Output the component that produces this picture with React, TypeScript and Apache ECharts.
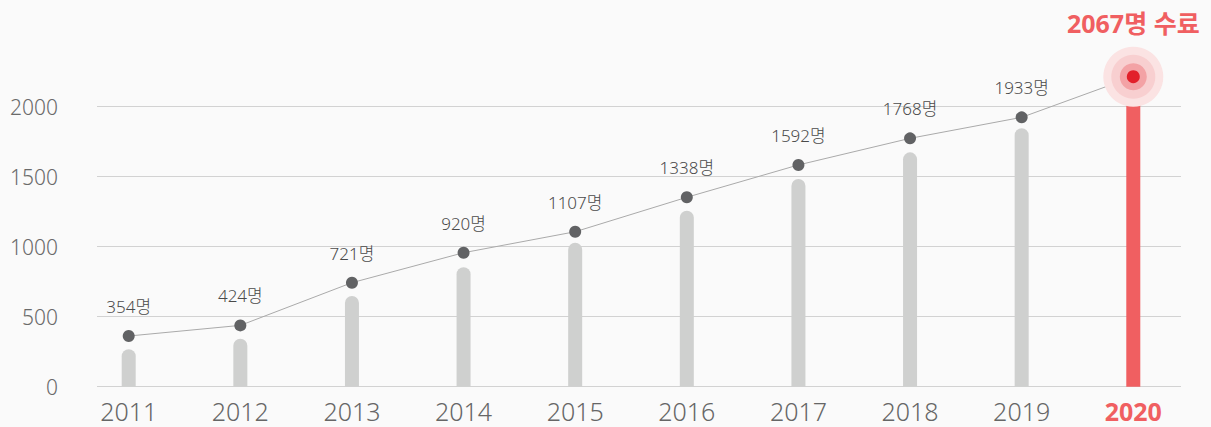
import React, { useEffect, useRef } from "react";
import * as echarts from "echarts";

const years = ["2011", "2012", "2013", "2014", "2015", "2016", "2017", "2018", "2019", "2020"];
const barValues = [267, 343, 648, 853, 1029, 1257, 1484, 1674, 1846, 2071];
const pointValues = [362, 438, 743, 957, 1107, 1353, 1584, 1774, 1924, 2214];
const labelValues = [354, 424, 721, 920, 1107, 1338, 1592, 1768, 1933, 2067];
const highlightLabel = "2067명 수료";
const yMin = 0;
const yMax = 2000;
const yInterval = 500;

const FONT = "'Noto Sans', 'Noto Sans CJK KR', sans-serif";
const RED = "#f05f61";

export default function App() {
  const ref = useRef<HTMLDivElement>(null);
  useEffect(() => {
    if (!ref.current) return;
    const chart = echarts.init(ref.current, undefined, { renderer: "svg" });
    const last = years.length - 1;
    const onlyLast = (v: number) => years.map((_, i) => (i === last ? v : "-"));
    const halo = (size: number, color: string, z: number, extra: any = {}) => ({
      type: "scatter",
      xAxisIndex: 1,
      yAxisIndex: 1,
      data: onlyLast(pointValues[last]),
      symbol: "circle",
      symbolSize: size,
      itemStyle: { color, opacity: 1 },
      silent: true,
      clip: false,
      z,
      ...extra,
    });
    chart.setOption({
      animation: false,
      backgroundColor: "#fafafa",
      textStyle: { fontFamily: FONT },
      grid: [
        { left: 97, right: 30, top: 106.7, bottom: 40.3 },
        { left: 72.9, right: 21.9, top: 106.7, bottom: 40.3 },
      ],
      xAxis: [
        { type: "category", gridIndex: 0, data: years, show: false },
        {
          type: "category",
          gridIndex: 1,
          data: years,
          axisLine: { show: false },
          axisTick: { show: false },
          axisLabel: {
            interval: 0,
            fontFamily: FONT,
            fontSize: 25,
            fontWeight: 300,
            lineHeight: 24,
            color: "#666",
            margin: 12,
            formatter: (v: string) => (v === years[last] ? `{hl|${v}}` : v),
            rich: {
              hl: {
                fontFamily: FONT,
                fontSize: 25,
                lineHeight: 24,
                fontWeight: "bold",
                color: RED,
              },
            },
          },
        },
      ],
      yAxis: [
        {
          type: "value",
          gridIndex: 0,
          min: yMin,
          max: yMax,
          interval: yInterval,
          axisLine: { show: false },
          axisTick: { show: false },
          splitLine: { lineStyle: { color: "#d2d2d2", width: 1 } },
          axisLabel: {
            fontFamily: FONT,
            fontSize: 21,
            fontWeight: 300,
            color: "#6a6a6a",
            margin: 39,
            formatter: (v: number) => String(v),
          },
        },
        {
          type: "value",
          gridIndex: 1,
          min: yMin,
          max: yMax,
          interval: yInterval,
          show: false,
          splitLine: { show: false },
        },
      ],
      series: [
        {
          type: "bar",
          xAxisIndex: 1,
          yAxisIndex: 1,
          barWidth: 14,
          clip: false,
          data: barValues.map((v, i) => ({
            value: v,
            itemStyle: { color: i === last ? RED : "#cfd0cf", borderRadius: [7, 7, 0, 0] },
          })),
          z: 2,
        },
        {
          type: "line",
          xAxisIndex: 1,
          yAxisIndex: 1,
          clip: false,
          symbol: "circle",
          symbolSize: 12,
          itemStyle: { color: "#616264" },
          lineStyle: { color: "#aaaaaa", width: 1 },
          data: pointValues.map((v, i) => ({
            value: v,
            symbol: i === last ? "none" : "circle",
            label: {
              show: i !== last,
              position: "top",
              distance: 15,
              fontFamily: FONT,
              fontSize: 17,
              fontWeight: 300,
              color: "#4a4a4a",
              formatter: () => `${labelValues[i]}명`,
            },
          })),
          z: 3,
        },
        halo(60, "#fbe3e3", 4, {
          label: {
            show: true,
            position: "top",
            distance: 11,
            fontFamily: FONT,
            fontSize: 25,
            fontWeight: "bold",
            color: RED,
            formatter: () => highlightLabel,
          },
        }),
        halo(44, "#f8cfd0", 5),
        halo(27, "#f3a2a5", 6),
        halo(13, "#e2202a", 7),
      ],
    });
    return () => chart.dispose();
  }, []);
  return (
    <div
      ref={ref}
      style={{ position: "fixed", left: 0, top: 0, width: 1211, height: 427 }}
    />
  );
}
